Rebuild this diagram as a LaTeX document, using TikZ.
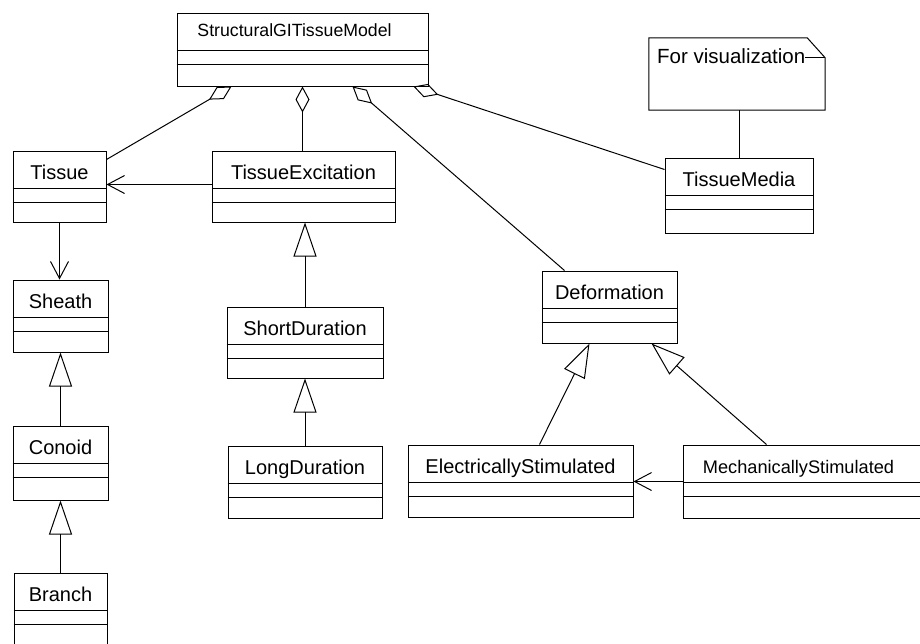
\documentclass[tikz,border=0pt]{standalone}
\usepackage{fontspec}
\setmainfont{Liberation Sans}
\usetikzlibrary{arrows.meta}

\tikzset{
  classbox/.style={draw, line width=1pt, inner sep=0pt, rectangle},
  divider/.style={line width=1pt},
  classname/.style={anchor=base, inner sep=0pt, font=\fontsize{20}{24}\selectfont},
  link/.style={line width=1pt},
  aggregation/.style={link, {Diamond[open, length=26pt, width=14pt, line width=1pt]}-},
  generalization/.style={link, -{Triangle[open, length=34pt, width=23pt, line width=1pt]}},
  navigable/.style={link, -{Straight Barb[length=17pt, width=18pt, line width=1pt]}},
}

% UML class: [title options]{name}{left}{top}{right}{bottom}{title}
\newcommand\umlclass[7][]{%
  \node[classbox, minimum width={(#5-#3)*1pt}, minimum height={(#6-#4)*1pt}]
    (#2) at ({(#3+#5)/2},{(#4+#6)/2}) {};
  \draw[divider] ([yshift=-38pt]#2.north west) -- ([yshift=-38pt]#2.north east);
  \draw[divider] ([yshift=-52pt]#2.north west) -- ([yshift=-52pt]#2.north east);
  \node[classname, #1] (#2-title) at ([yshift=-28.5pt]#2.north) {#7};
}

\begin{document}
\begin{tikzpicture}[x=1pt, y=-1pt]
  \useasboundingbox[fill=white] (0,0) rectangle (920,643);

  % classes
  \umlclass[xshift=-8pt, yshift=4.5pt, font=\fontsize{17.7}{20}\selectfont]{model}{177}{13}{428}{86}{StructuralGITissueModel}
  \umlclass{tissue}{13}{151}{106}{222}{Tissue}
  \umlclass{excitation}{212}{151}{395}{222}{TissueExcitation}
  \umlclass{sheath}{13}{280}{108}{352}{Sheath}
  \umlclass{conoid}{13}{426}{108}{500}{Conoid}
  \umlclass{branch}{14}{573}{107}{648}{Branch}
  \umlclass{shortdur}{227}{307}{383}{378}{ShortDuration}
  \umlclass{longdur}{228}{446}{382}{518}{LongDuration}
  \umlclass{deformation}{542}{271}{677}{343}{Deformation}
  \umlclass{electric}{408}{445}{633}{517}{ElectricallyStimulated}
  \umlclass[xshift=-5.5pt, font=\fontsize{18.2}{22}\selectfont]{mech}{683}{445}{925}{518}{MechanicallyStimulated}
  \umlclass{tissuemedia}{665}{158}{813}{233}{TissueMedia}

  % note with folded corner
  \node[inner sep=0pt, minimum width=176pt, minimum height=72pt] (note) at (737,74) {};
  \draw[link] (note.north west) -- ([xshift=-18pt]note.north east)
    -- ([yshift=-20pt]note.north east) -- (note.south east)
    -- (note.south west) -- cycle;
  \draw[link] ([xshift=-20pt, yshift=-20pt]note.north east) -- ([yshift=-20pt]note.north east);
  \node[anchor=base west, inner sep=0pt, font=\fontsize{20.5}{24}\selectfont]
    (note-text) at (657,63) {For visualization};

  % aggregations from the model
  \draw[aggregation] ([xshift=55pt]model.south west) -- ([yshift=-9pt]tissue.north east);
  \draw[aggregation] (model.south) -- (model.south |- excitation.north);
  \draw[aggregation] ([xshift=176pt]model.south west) -- ([xshift=23pt]deformation.north west);
  \draw[aggregation] ([xshift=-15pt]model.south east) -- ([yshift=-12pt]tissuemedia.north west);

  % navigable associations
  \draw[navigable] ([yshift=-34pt]excitation.north west) -- ([yshift=-34pt]tissue.north east);
  \draw[navigable] (tissue.south) -- (tissue.south |- sheath.north);
  \draw[navigable] ([yshift=-37pt]mech.north west) -- ([yshift=-37pt]electric.north east);

  % generalizations
  \draw[generalization] (conoid.north) -- (conoid.north |- sheath.south);
  \draw[generalization] (branch.north) -- (branch.north |- conoid.south);
  \draw[generalization] (shortdur.north) -- (shortdur.north |- excitation.south);
  \draw[generalization] (longdur.north) -- (shortdur.south);
  \draw[generalization] ([xshift=132pt]electric.north west) -- ([xshift=48pt]deformation.south west);
  \draw[generalization] ([xshift=84pt]mech.north west) -- ([xshift=110pt]deformation.south west);

  % note attachment
  \draw[link] (note.south -| tissuemedia.north) -- (tissuemedia.north);
\end{tikzpicture}
\end{document}
